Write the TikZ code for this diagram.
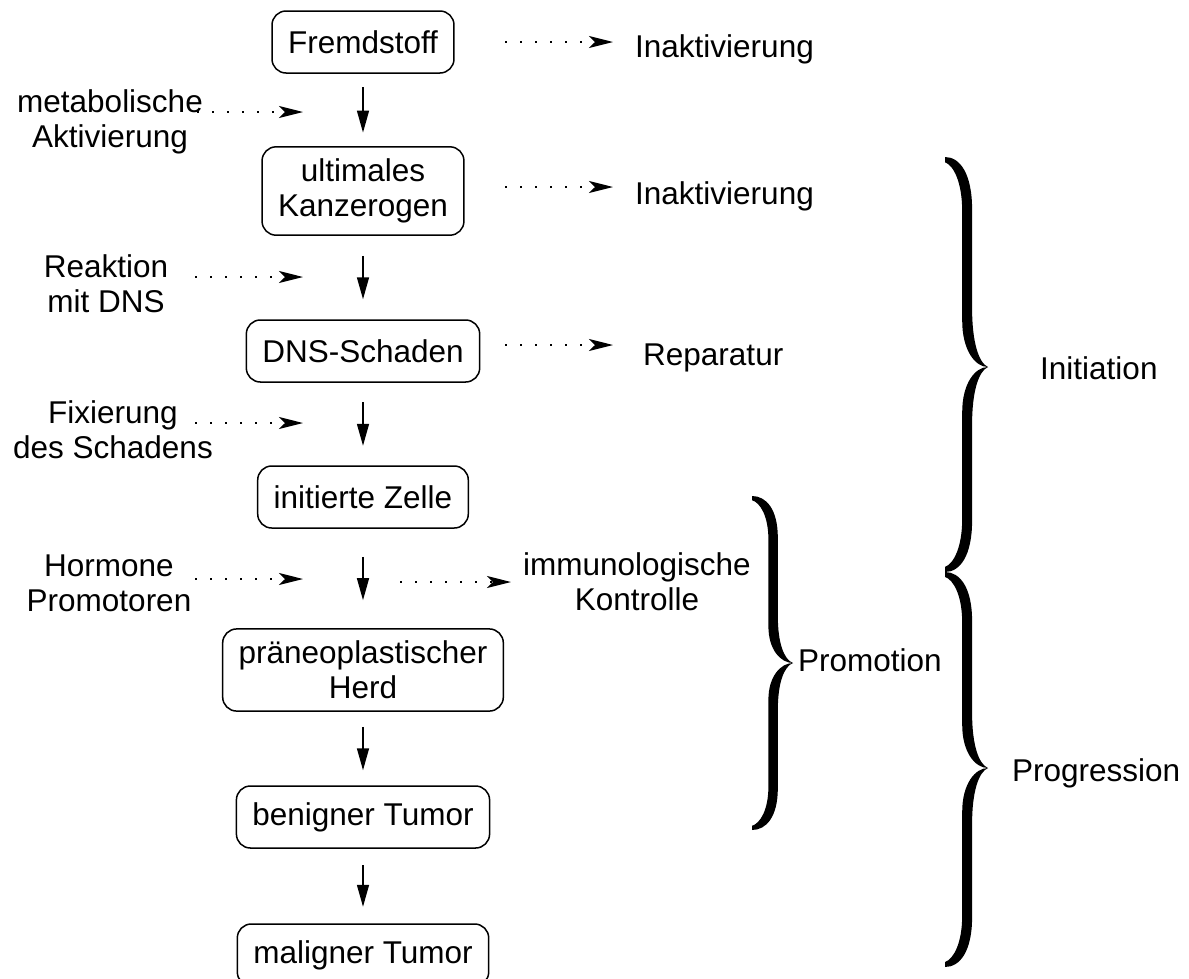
\documentclass[tikz,border=0pt]{standalone}
\usepackage{fontspec}
\setmainfont{Liberation Sans}
\usetikzlibrary{arrows.meta}

% one half of a curly brace, from its end (#1,#2) to its tip, #3 high, #4 wide
\newcommand{\halfbrace}[4]{%
  \fill[shift={(#1,#2)}, xscale=#4, yscale=#3]
    (0,0) .. controls (0.35,0) and (0.63,0.08) .. (0.63,0.25)
    -- (0.63,0.72)
    .. controls (0.63,0.88) and (0.78,0.98) .. (1,1)
    .. controls (0.7,1.0) and (0.4,0.92) .. (0.4,0.78)
    -- (0.4,0.26)
    .. controls (0.4,0.12) and (0.2,0.04) .. (0,0.025) -- cycle;}

\begin{document}
\begin{tikzpicture}[x=1pt, y=-1pt,
  font=\fontsize{31.5}{35}\selectfont,
  stage/.style={draw, line width=1.5pt, rounded corners=14pt, align=center,
    inner xsep=16pt, inner ysep=12pt, minimum height=62pt},
  lab/.style={align=center, inner sep=0pt},
  flow/.style={line width=1.5pt, -{Triangle[length=22pt, width=12pt]}},
  side/.style={line width=1.6pt, dash pattern=on 2pt off 13pt,
    -{Stealth[length=24pt, width=12pt, inset=6pt]}}]

  \useasboundingbox (0,0) rectangle (1189,978);

  % main chain
  \node[stage] (fremd)   at (363,42)  {Fremdstoff};
  \node[stage] (ultimal) at (363,191) {ultimales\\Kanzerogen};
  \node[stage] (dns)     at (363,351) {DNS-Schaden};
  \node[stage] (initz)   at (363,497) {initierte Zelle};
  \node[stage] (praeneo) at (363,670) {präneoplastischer\\Herd};
  \node[stage] (benign)  at (363,817) {benigner Tumor};
  \node[stage] (malign)  at (363,955) {maligner Tumor};

  \draw[flow, shorten <=13.5pt, shorten >=13.5pt] (fremd) -- (ultimal);
  \draw[flow, shorten <=20pt, shorten >=20pt] (ultimal) -- (dns);
  \draw[flow, shorten <=19.5pt, shorten >=19.5pt] (dns) -- (initz);
  \draw[flow, shorten <=28pt, shorten >=28pt] (initz) -- (praeneo);
  \draw[flow, shorten <=15pt, shorten >=15pt] (praeneo) -- (benign);
  \draw[flow, shorten <=16.5pt, shorten >=16.5pt] (benign) -- (malign);

  % influences from the left
  \node[lab, anchor=north] (lmeta) at (110,89)  {metabolische\\Aktivierung};
  \node[lab, anchor=north] (lreak) at (106,254) {Reaktion\\mit DNS};
  \node[lab, anchor=north] (lfix)  at (113,400) {Fixierung\\des Schadens};
  \node[lab, anchor=north] (lhorm) at (109,555) {Hormone\\Promotoren};

  \coordinate (m1) at (197,112); \coordinate (m1e) at (303,112);
  \coordinate (m2) at (195,277); \coordinate (m2e) at (303,277);
  \coordinate (m3) at (195,423); \coordinate (m3e) at (303,423);
  \coordinate (m4) at (195,579); \coordinate (m4e) at (303,579);
  \draw[side] (m1) -- (m1e);
  \draw[side] (m2) -- (m2e);
  \draw[side] (m3) -- (m3e);
  \draw[side] (m4) -- (m4e);

  % outcomes to the right
  \node[lab, anchor=base west] (inakt1) at (635,57)  {Inaktivierung};
  \node[lab, anchor=base west] (inakt2) at (635,204) {Inaktivierung};
  \node[lab, anchor=base west] (repar)  at (643,365) {Reparatur};
  \node[lab, anchor=north] (immun) at (637,552) {immunologische\\Kontrolle};

  \coordinate (r1) at (505,42);
  \coordinate (r2) at (505,187);
  \coordinate (r3) at (505,345);
  \coordinate (r4) at (400,582);
  \draw[side, shorten >=22pt] (r1) -- (r1 -| inakt1.west);
  \draw[side, shorten >=22pt] (r2) -- (r2 -| inakt2.west);
  \draw[side, shorten >=30pt] (r3) -- (r3 -| repar.west);
  \draw[side, shorten >=12pt] (r4) -- (r4 -| immun.west);

  % phases
  \halfbrace{945}{157}{210}{43}
  \halfbrace{945}{572}{-205}{43}
  \halfbrace{945}{572}{196}{43}
  \halfbrace{945}{967}{-199}{43}
  \halfbrace{752}{496}{167}{41}
  \halfbrace{752}{830}{-167}{41}

  \node[lab, anchor=base west] (initiation)  at (1040,379) {Initiation};
  \node[lab, anchor=base west] (promotion)   at (798,671)  {Promotion};
  \node[lab, anchor=base west] (progression) at (1012,781) {Progression};

\end{tikzpicture}
\end{document}
